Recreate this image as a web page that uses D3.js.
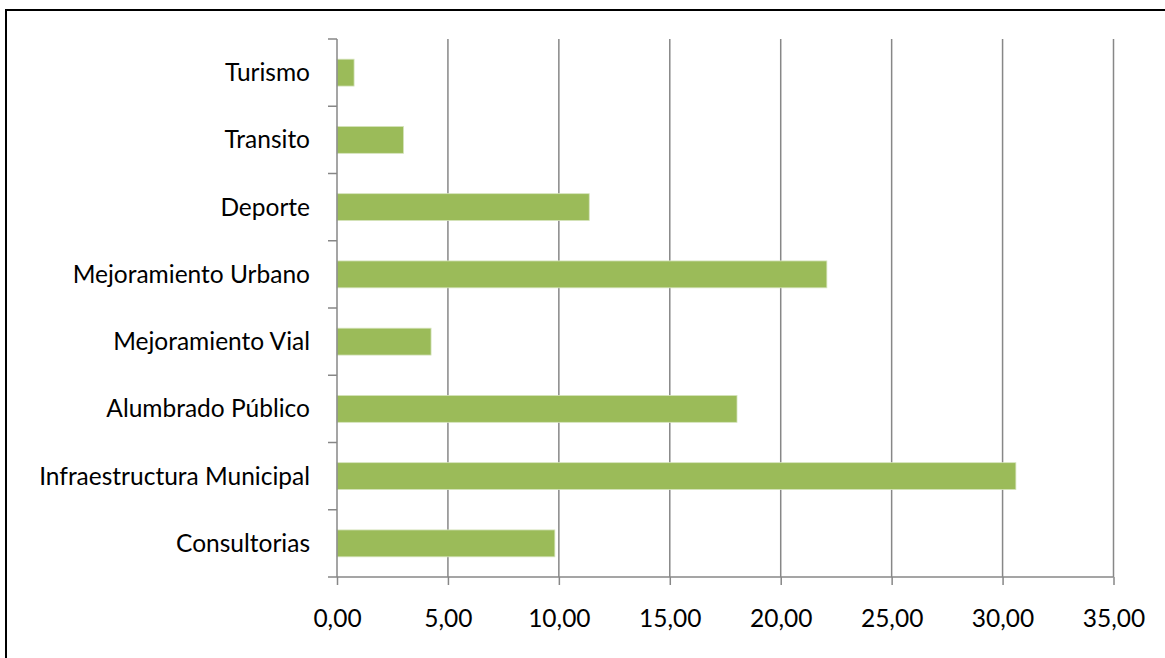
<!DOCTYPE html>
<html>
<head>
<meta charset="utf-8">
<script src="https://cdn.jsdelivr.net/npm/d3@7"></script>
<style>
  html, body { margin: 0; padding: 0; background: #fff; }
  svg text { font-family: Lato, "Open Sans", sans-serif; fill: #000; }
</style>
</head>
<body>
<div id="chart"></div>
<script>
// categories top to bottom, as in the picture
const categories = ['Turismo', 'Transito', 'Deporte', 'Mejoramiento Urbano', 'Mejoramiento Vial',
	'Alumbrado Público', 'Infraestructura Municipal', 'Consultorias'];
const values = [0.77, 3.0, 11.37, 22.08, 4.24, 18.03, 30.6, 9.82];
const x_ticks = [0, 5, 10, 15, 20, 25, 30, 35];

let width = 1165,
	height = 658,
	margin = {top: 39, right: 51.5, bottom: 81, left: 337},
	chart_width = width - margin.left - margin.right,
	chart_height = height - margin.top - margin.bottom,
	font_size = 24.5;

let svg = d3.select('#chart').append('svg')
	.attr('width', width)
	.attr('height', height);

// outer frame (runs off the right and bottom edges)
svg.append('rect')
	.attr('x', 6)
	.attr('y', 10)
	.attr('width', width + 20)
	.attr('height', height + 20)
	.attr('fill', 'none')
	.attr('stroke', '#000')
	.attr('stroke-width', 2);

let g = svg.append('g').attr('transform', 'translate(' + margin.left + ',' + margin.top + ')');

let x = d3.scaleLinear().domain([0, 35]).range([0, chart_width]);
let y = d3.scaleBand().domain(categories).range([0, chart_height]).paddingInner(0.6).paddingOuter(0.3);
let yb = d3.scaleBand().domain(categories).range([0, chart_height]);

// vertical gridlines
g.selectAll('.grid')
	.data(x_ticks.slice(1))
	.enter().append('line')
	.attr('class', 'grid')
	.attr('x1', d => x(d)).attr('x2', d => x(d))
	.attr('y1', 0).attr('y2', chart_height)
	.attr('stroke', '#878787')
	.attr('stroke-width', 1.5);

// bars
g.selectAll('.bar')
	.data(values)
	.enter().append('rect')
	.attr('class', 'bar')
	.attr('x', 0)
	.attr('y', (d, i) => y(categories[i]))
	.attr('width', d => x(d))
	.attr('height', y.bandwidth())
	.attr('fill', '#9bbb59')
	.attr('stroke', '#d6e4bd')
	.attr('stroke-width', 0.8);

// x axis
let x_axis = d3.axisBottom(x)
	.tickValues(x_ticks)
	.tickSize(8)
	.tickPadding(24)
	.tickFormat(d => d3.format('.2f')(d).replace('.', ','));

let xg = g.append('g')
	.attr('transform', 'translate(0,' + chart_height + ')')
	.call(x_axis);
xg.select('.domain').attr('stroke', '#878787').attr('stroke-width', 1.5).attr('d', 'M0,0H' + chart_width);
xg.selectAll('.tick line').attr('stroke', '#878787').attr('stroke-width', 1.5);
xg.selectAll('.tick text').attr('font-size', font_size).attr('dy', '0.75em');

// y axis: ticks sit between categories
let y_edges = categories.map(c => yb(c)).concat([chart_height]);
g.append('line')
	.attr('x1', 0).attr('x2', 0)
	.attr('y1', 0).attr('y2', chart_height)
	.attr('stroke', '#878787')
	.attr('stroke-width', 1.5);
g.selectAll('.ytick')
	.data(y_edges)
	.enter().append('line')
	.attr('class', 'ytick')
	.attr('x1', -9).attr('x2', 0)
	.attr('y1', d => d).attr('y2', d => d)
	.attr('stroke', '#878787')
	.attr('stroke-width', 1.5);

g.selectAll('.ylabel')
	.data(categories)
	.enter().append('text')
	.attr('class', 'ylabel')
	.attr('x', -27)
	.attr('y', d => yb(d) + yb.bandwidth() / 2)
	.attr('dy', '0.35em')
	.attr('text-anchor', 'end')
	.attr('font-size', font_size)
	.text(d => d);
</script>
</body>
</html>
